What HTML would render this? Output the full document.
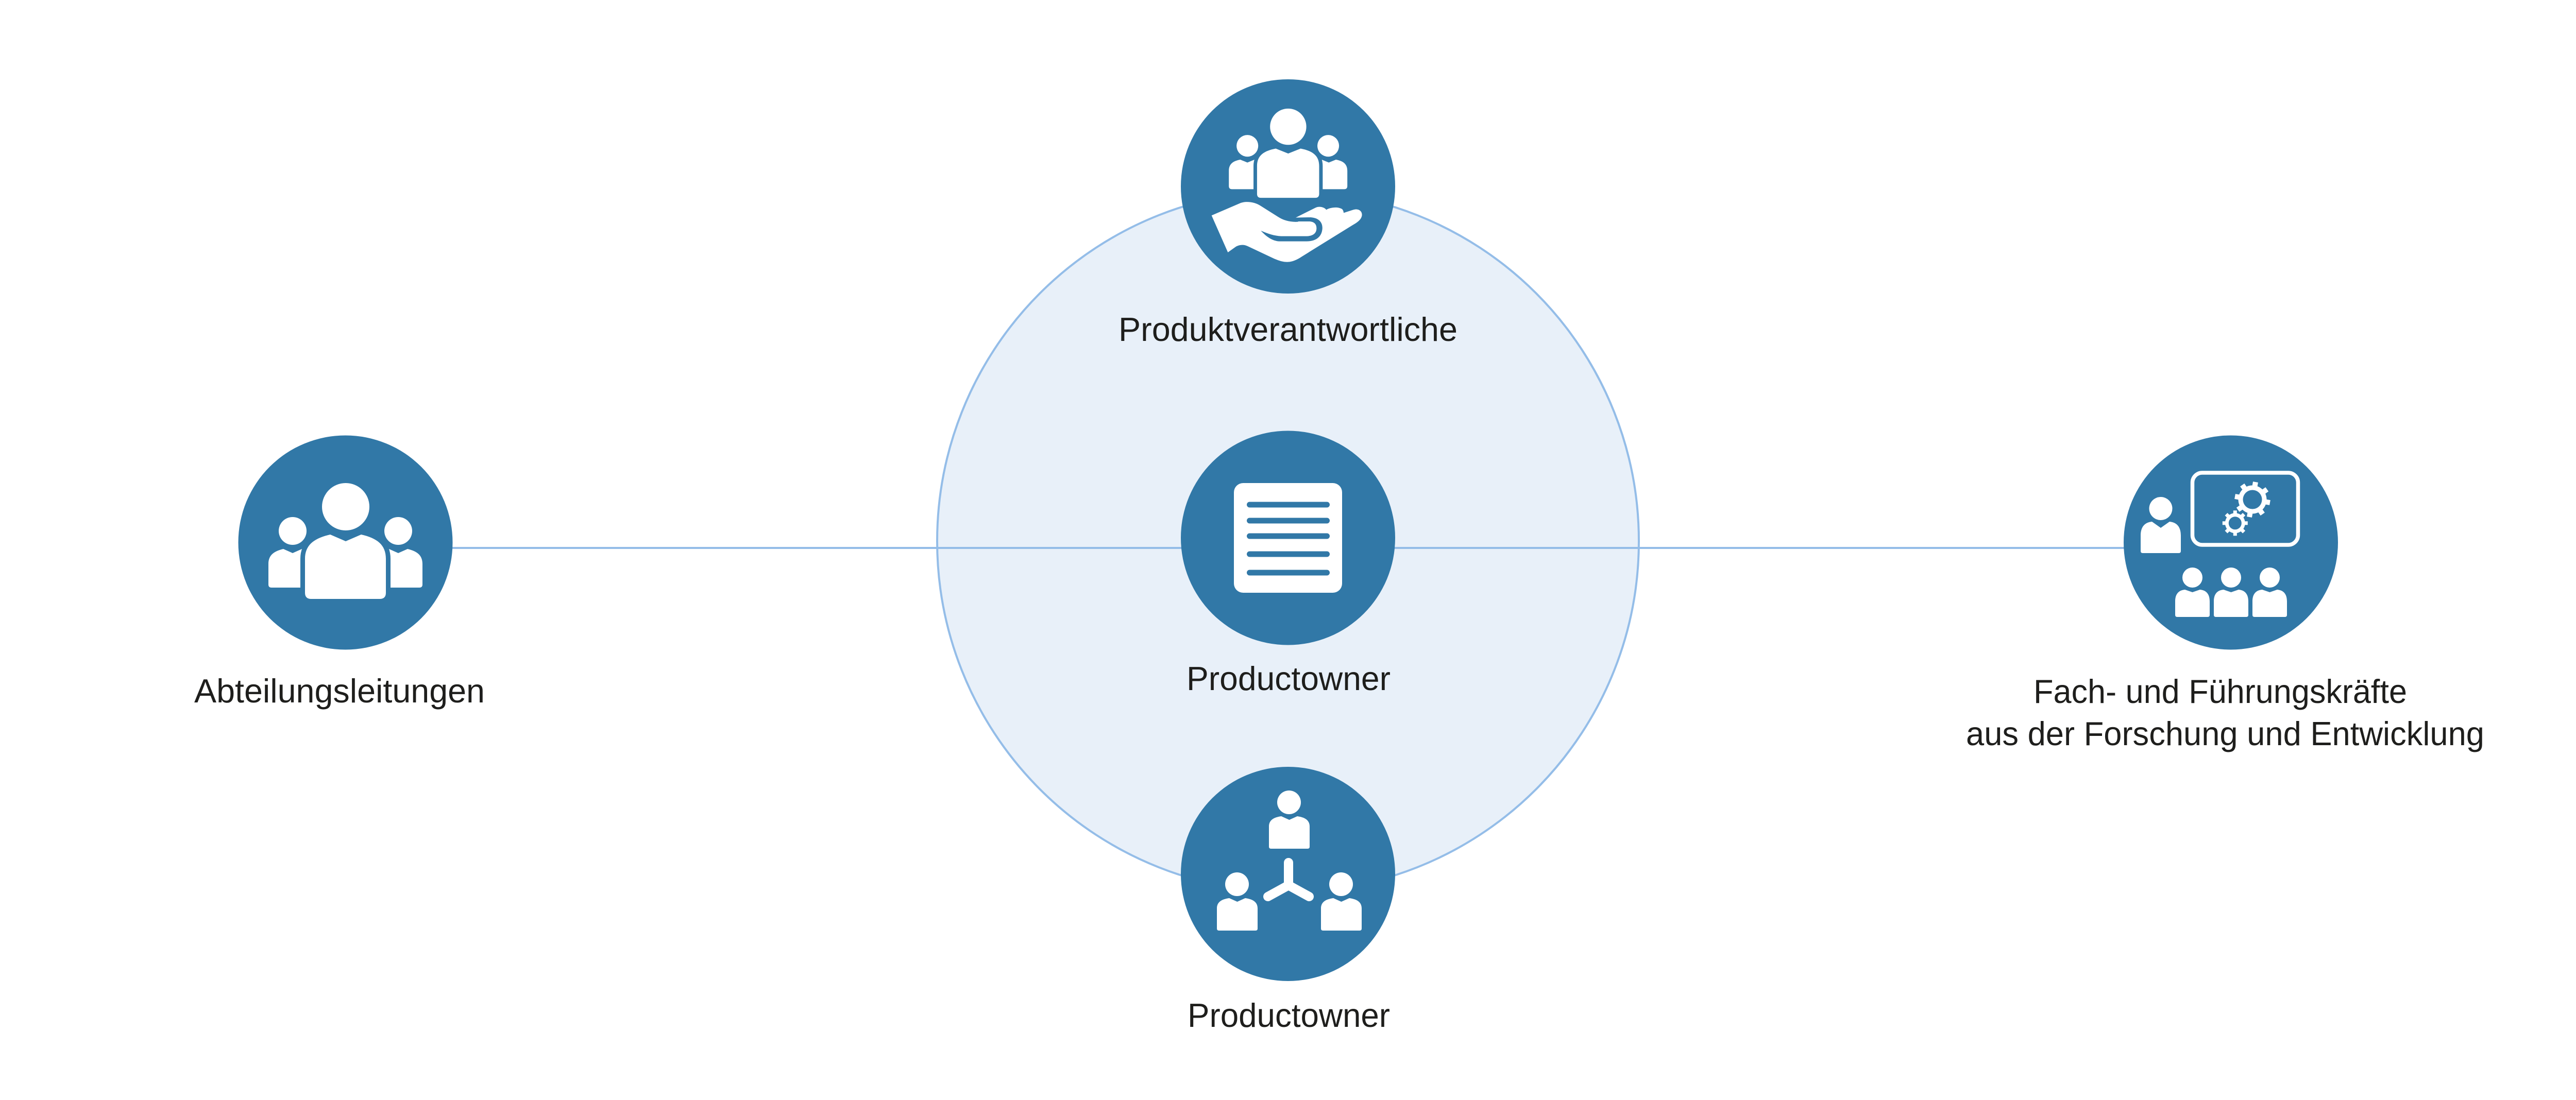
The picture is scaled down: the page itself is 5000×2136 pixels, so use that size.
<!DOCTYPE html>
<html>
<head>
<meta charset="utf-8">
<style>
html,body{margin:0;padding:0;background:#ffffff;}
body{width:5000px;height:2136px;overflow:hidden;}
svg{display:block;}
text{font-family:"Liberation Sans",sans-serif;font-size:65px;fill:#1e1e1c;}
</style>
</head>
<body>
<svg width="5000" height="2136" viewBox="0 0 5000 2136" xmlns="http://www.w3.org/2000/svg">
  <rect x="0" y="0" width="5000" height="2136" fill="#ffffff"/>

  <!-- big light circle -->
  <circle cx="2500" cy="1051" r="681" fill="#e8f0f9" stroke="#94bde8" stroke-width="4"/>
  <!-- horizontal connector -->
  <line x1="870" y1="1064" x2="4130" y2="1064" stroke="#94bde8" stroke-width="4"/>

  <!-- icon circles -->
  <g fill="#3178a7">
    <circle cx="2500" cy="362" r="208"/>
    <circle cx="2500" cy="1044.5" r="208"/>
    <circle cx="2500" cy="1697" r="208"/>
    <circle cx="670.5" cy="1053.5" r="208"/>
    <circle cx="4330" cy="1053.5" r="208"/>
  </g>

  <!-- TOP ICON: people + hand -->
  <g transform="translate(2200 150) scale(0.38265)">
    <circle cx="785" cy="251" r="92" fill="#fff"/>
    <circle cx="578" cy="348" r="55" fill="#fff"/>
    <circle cx="988" cy="348" r="55" fill="#fff"/>
    <path d="M500,568 Q484,568 484,552 L484,475 C484,440 505,425 542,418 L578,433 L614,418 L660,430 L660,568 Z" fill="#fff"/>
    <path d="M1069,568 Q1085,568 1085,552 L1085,475 C1085,440 1064,425 1027,418 L991,433 L955,418 L910,430 L910,568 Z" fill="#fff"/>
    <path d="M647,612 Q627,612 627,592 L627,450 C627,395 665,373 722,362 L785,387 L848,362 C905,373 942,395 942,450 L942,592 Q942,612 922,612 Z" fill="#3178a7" stroke="#3178a7" stroke-width="36" stroke-linejoin="round"/>
    <path d="M647,612 Q627,612 627,592 L627,450 C627,395 665,373 722,362 L785,387 L848,362 C905,373 942,395 942,450 L942,592 Q942,612 922,612 Z" fill="#fff"/>
  </g>
  <g transform="translate(2340 380) scale(0.33333)">
    <path d="M35,115 L205,42 C240,30 290,38 322,60 L420,122 C455,145 495,155 540,152 L520,130 L640,70 C660,60 690,65 703,82 C725,68 770,62 795,78 C802,85 804,95 804,100 L860,82 C893,72 915,92 910,118 C905,140 885,155 855,172 L560,355 C530,375 500,388 468,386 C440,384 420,375 400,367 L245,294 C222,284 200,284 178,296 L130,330 Z" fill="#fff"/>
    <path d="M515,128 L612,126 C665,130 682,160 680,192 C677,238 645,265 590,266 L430,266 C390,264 355,240 322,204 C365,222 400,234 440,236 L590,236 C625,234 645,220 646,192 C647,168 635,152 605,150 L535,150 Z" fill="#3178a7"/>
  </g>

  <!-- CENTER ICON: document -->
  <rect x="2395" y="938" width="210" height="213" rx="18" ry="18" fill="#fff"/>
  <g stroke="#3178a7" stroke-width="11" stroke-linecap="round">
    <line x1="2425.5" y1="980" x2="2575.5" y2="980"/>
    <line x1="2425.5" y1="1011" x2="2575.5" y2="1011"/>
    <line x1="2425.5" y1="1041" x2="2575.5" y2="1041"/>
    <line x1="2425.5" y1="1076" x2="2575.5" y2="1076"/>
    <line x1="2425.5" y1="1112" x2="2575.5" y2="1112"/>
  </g>

  <!-- BOTTOM ICON: network of three people -->
  <g fill="#fff">
    <g>
      <circle cx="2502" cy="1558" r="23"/>
      <path d="M2467,1648 Q2463,1648 2463,1644 L2463,1605 C2463,1592 2473,1587 2487,1585 L2502.5,1592 L2518,1585 C2532,1587 2542,1592 2542,1605 L2542,1644 Q2542,1648 2538,1648 Z"/>
    </g>
    <g transform="translate(-101 159)">
      <circle cx="2502" cy="1558" r="23"/>
      <path d="M2467,1648 Q2463,1648 2463,1644 L2463,1605 C2463,1592 2473,1587 2487,1585 L2502.5,1592 L2518,1585 C2532,1587 2542,1592 2542,1605 L2542,1644 Q2542,1648 2538,1648 Z"/>
    </g>
    <g transform="translate(101 159)">
      <circle cx="2502" cy="1558" r="23"/>
      <path d="M2467,1648 Q2463,1648 2463,1644 L2463,1605 C2463,1592 2473,1587 2487,1585 L2502.5,1592 L2518,1585 C2532,1587 2542,1592 2542,1605 L2542,1644 Q2542,1648 2538,1648 Z"/>
    </g>
  </g>
  <g stroke="#fff" stroke-width="18" stroke-linecap="round" stroke-linejoin="round" fill="none">
    <line x1="2501" y1="1675" x2="2501" y2="1719"/>
    <polyline points="2461,1741 2501,1719 2541,1741"/>
  </g>

  <!-- LEFT ICON: group -->
  <g fill="#fff">
    <circle cx="671" cy="984" r="46"/>
    <circle cx="568" cy="1031" r="27"/>
    <circle cx="773" cy="1031" r="27"/>
    <path d="M527,1141 Q521,1141 521,1135 L521,1095 C521,1078 532,1070 550,1066 L568,1074 L586,1066 L620,1070 L620,1141 Z"/>
    <path d="M814,1141 Q820,1141 820,1135 L820,1095 C820,1078 809,1070 791,1066 L773,1074 L755,1066 L720,1070 L720,1141 Z"/>
  </g>
  <path d="M604,1163 Q592,1163 592,1151 L592,1085 C592,1058 610,1045 641,1038 L671,1051 L701,1038 C732,1045 749,1058 749,1085 L749,1151 Q749,1163 737,1163 Z" fill="#3178a7" stroke="#3178a7" stroke-width="18" stroke-linejoin="round"/>
  <path d="M604,1163 Q592,1163 592,1151 L592,1085 C592,1058 610,1045 641,1038 L671,1051 L701,1038 C732,1045 749,1058 749,1085 L749,1151 Q749,1163 737,1163 Z" fill="#fff"/>

  <!-- RIGHT ICON: presenter, board, audience -->
  <g fill="#fff">
    <circle cx="4194" cy="987.5" r="22.5"/>
    <path d="M4159,1074 Q4155,1074 4155,1070 L4155,1040 C4155,1020 4166,1014 4177,1013 L4194,1025 L4211,1013 C4222,1014 4233,1020 4233,1040 L4233,1070 Q4233,1074 4229,1074 Z"/>
    <g>
      <circle cx="4255.5" cy="1121.5" r="19.5"/>
      <path d="M4226,1198 Q4222,1198 4222,1194 L4222,1168 C4222,1152 4230,1146 4241,1145 L4255.5,1150 L4270,1145 C4281,1146 4289,1152 4289,1168 L4289,1194 Q4289,1198 4285,1198 Z"/>
    </g>
    <g transform="translate(75 0)">
      <circle cx="4255.5" cy="1121.5" r="19.5"/>
      <path d="M4226,1198 Q4222,1198 4222,1194 L4222,1168 C4222,1152 4230,1146 4241,1145 L4255.5,1150 L4270,1145 C4281,1146 4289,1152 4289,1168 L4289,1194 Q4289,1198 4285,1198 Z"/>
    </g>
    <g transform="translate(150 0)">
      <circle cx="4255.5" cy="1121.5" r="19.5"/>
      <path d="M4226,1198 Q4222,1198 4222,1194 L4222,1168 C4222,1152 4230,1146 4241,1145 L4255.5,1150 L4270,1145 C4281,1146 4289,1152 4289,1168 L4289,1194 Q4289,1198 4285,1198 Z"/>
    </g>
  </g>
  <rect x="4255.5" y="918" width="205" height="140" rx="19" ry="19" fill="none" stroke="#fff" stroke-width="7.5"/>
  <!-- big gear -->
  <g transform="translate(4372 970)">
    <circle r="27.5" fill="#fff"/>
    <g fill="#fff">
      <rect x="-5" y="-34.5" width="10" height="12" transform="rotate(10)"/>
      <rect x="-5" y="-34.5" width="10" height="12" transform="rotate(55)"/>
      <rect x="-5" y="-34.5" width="10" height="12" transform="rotate(100)"/>
      <rect x="-5" y="-34.5" width="10" height="12" transform="rotate(145)"/>
      <rect x="-5" y="-34.5" width="10" height="12" transform="rotate(190)"/>
      <rect x="-5" y="-34.5" width="10" height="12" transform="rotate(235)"/>
      <rect x="-5" y="-34.5" width="10" height="12" transform="rotate(280)"/>
      <rect x="-5" y="-34.5" width="10" height="12" transform="rotate(325)"/>
    </g>
    <circle r="18.5" fill="#3178a7"/>
  </g>
  <!-- small gear -->
  <g transform="translate(4338.3 1015.8)">
    <circle r="19.5" fill="#fff"/>
    <g fill="#fff">
      <rect x="-3.5" y="-24.5" width="7" height="9" transform="rotate(0)"/>
      <rect x="-3.5" y="-24.5" width="7" height="9" transform="rotate(45)"/>
      <rect x="-3.5" y="-24.5" width="7" height="9" transform="rotate(90)"/>
      <rect x="-3.5" y="-24.5" width="7" height="9" transform="rotate(135)"/>
      <rect x="-3.5" y="-24.5" width="7" height="9" transform="rotate(180)"/>
      <rect x="-3.5" y="-24.5" width="7" height="9" transform="rotate(225)"/>
      <rect x="-3.5" y="-24.5" width="7" height="9" transform="rotate(270)"/>
      <rect x="-3.5" y="-24.5" width="7" height="9" transform="rotate(315)"/>
    </g>
    <circle r="12.5" fill="#3178a7"/>
  </g>

  <!-- LABELS -->
  <text x="2171" y="662" textLength="658" lengthAdjust="spacingAndGlyphs">Produktverantwortliche</text>
  <text x="2303" y="1340" textLength="396" lengthAdjust="spacingAndGlyphs">Productowner</text>
  <text x="2305" y="1994" textLength="393" lengthAdjust="spacingAndGlyphs">Productowner</text>
  <text x="377" y="1364" textLength="564" lengthAdjust="spacingAndGlyphs">Abteilungsleitungen</text>
  <text x="3947" y="1365" textLength="725" lengthAdjust="spacingAndGlyphs">Fach- und Führungskräfte</text>
  <text x="3816" y="1447" textLength="1006" lengthAdjust="spacingAndGlyphs">aus der Forschung und Entwicklung</text>
</svg>
</body>
</html>
